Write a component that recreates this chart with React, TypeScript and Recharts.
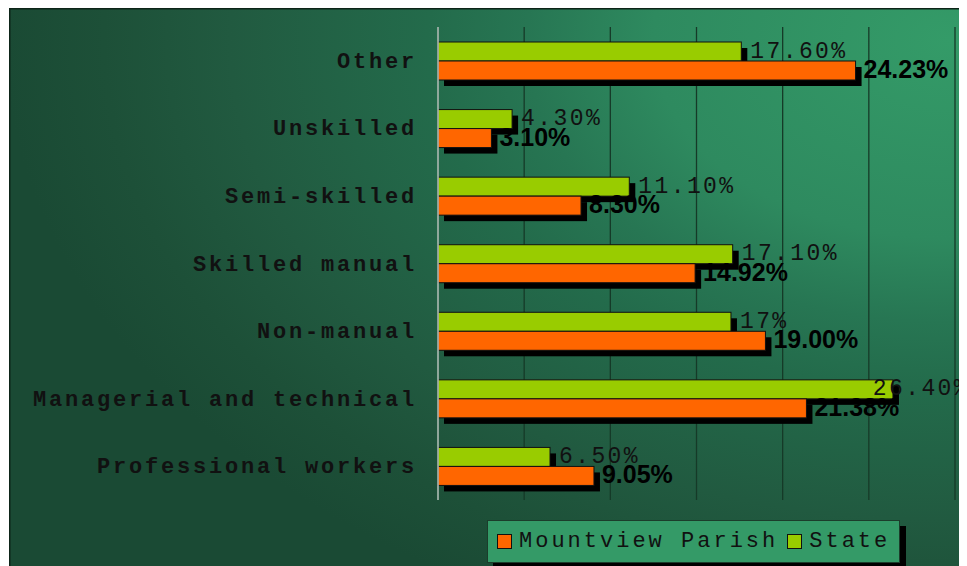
import React from "react"
import {
    BarChart,
    Bar,
    XAxis,
    YAxis,
    CartesianGrid,
    LabelList,
} from "recharts"

const categories = [
    "Other",
    "Unskilled",
    "Semi-skilled",
    "Skilled manual",
    "Non-manual",
    "Managerial and technical",
    "Professional workers",
]
const stateValues = [17.6, 4.3, 11.1, 17.1, 17, 26.4, 6.5]
const stateLabels = ["17.60%", "4.30%", "11.10%", "17.10%", "17%", "26.40%", "6.50%"]
const parishValues = [24.23, 3.1, 8.3, 14.92, 19.0, 21.38, 9.05]
const parishLabels = ["24.23%", "3.10%", "8.30%", "14.92%", "19.00%", "21.38%", "9.05%"]
const xTicks = [0, 5, 10, 15, 20, 25, 30]

const CHART_W = 958
const CHART_H = 558
const MONO = "'Liberation Mono', 'DejaVu Sans Mono', monospace"
const SANS = "'Liberation Sans', Arial, sans-serif"

const data = categories.map((name, i) => ({
    name,
    state: stateValues[i],
    stateLabel: stateLabels[i],
    parish: parishValues[i],
    parishLabel: parishLabels[i],
}))

// bar with a hard black drop shadow
function ShadowBar(props: any) {
    const { x, y, width, height, fill } = props
    if (!width || width <= 0) return null
    return (
        <g>
            <rect x={x + 6} y={y + 6} width={width} height={height} fill="#000" />
            <rect x={x} y={y} width={width} height={height} fill={fill} stroke="#111" strokeWidth={1} />
        </g>
    )
}

function StateLabel(props: any) {
    const { x, y, width, height, value } = props
    const text = String(value)
    const textW = text.length * 16.2 - 3
    const lx = Math.min(x + width + 9, CHART_W - textW)
    return (
        <text
            x={lx}
            y={y + height / 2 + 6}
            fill="#111"
            fontFamily={MONO}
            fontSize={23}
            letterSpacing={2.4}
        >
            {text}
        </text>
    )
}

function ParishLabel(props: any) {
    const { x, y, width, height, value } = props
    return (
        <text
            x={x + width + 8}
            y={y + height / 2 + 7.5}
            fill="#000"
            fontFamily={SANS}
            fontWeight="bold"
            fontSize={25}
        >
            {value}
        </text>
    )
}

function CategoryTick(props: any) {
    const { x, y, payload } = props
    return (
        <text
            x={x - 13}
            y={y + 7}
            textAnchor="end"
            fill="#111"
            fontFamily={MONO}
            fontWeight="bold"
            fontSize={22}
            letterSpacing={2.8}
        >
            {payload.value}
        </text>
    )
}

function LegendBox() {
    const item = (color: string, label: string) => (
        <span style={{ display: "inline-flex", alignItems: "center" }}>
            <span
                style={{
                    display: "inline-block",
                    width: 13,
                    height: 13,
                    background: color,
                    border: "1.5px solid #111",
                    marginRight: 7,
                }}
            />
            <span>{label}</span>
        </span>
    )
    return (
        <div
            style={{
                position: "absolute",
                left: 478,
                top: 512,
                width: 413,
                height: 43,
                boxSizing: "border-box",
                background: "#349a67",
                border: "1px solid #1b3d2b",
                boxShadow: "6px 6px 0 #000",
                display: "flex",
                alignItems: "center",
                paddingLeft: 9,
                gap: 9,
                fontFamily: MONO,
                fontSize: 22,
                letterSpacing: 3,
                color: "#111",
                whiteSpace: "nowrap",
            }}
        >
            {item("#ff6600", "Mountview Parish")}
            {item("#99cc00", "State")}
        </div>
    )
}

export default function App() {
    return (
        <div
            style={{
                position: "relative",
                width: CHART_W,
                height: CHART_H,
                marginLeft: 1,
                overflow: "hidden",
                background:
                    "radial-gradient(ellipse 900px 600px at 941px 32px, #349b68 0%, #2e8a5f 33%, #277653 47%, #236b4b 58%, #215a40 80%, #1d5038 94%, #1a4a34 105%)",
                boxShadow: "inset 1.5px 1.5px 0 #0d2418",
            }}
        >
            <BarChart
                width={CHART_W}
                height={CHART_H}
                data={data}
                layout="vertical"
                margin={{ top: 19, right: 12, bottom: 66, left: 0 }}
                barSize={19}
                barGap={0}
            >
                <CartesianGrid horizontal={false} stroke="#163a28" strokeWidth={1.3} />
                <XAxis type="number" domain={[0, 30]} ticks={xTicks} hide />
                <YAxis
                    type="category"
                    dataKey="name"
                    width={429}
                    axisLine={{ stroke: "#b8c8c0", strokeWidth: 1.5 }}
                    tickLine={false}
                    tick={<CategoryTick />}
                    interval={0}
                />
                <Bar dataKey="state" fill="#99cc00" shape={<ShadowBar />} isAnimationActive={false}>
                    <LabelList dataKey="stateLabel" content={<StateLabel />} />
                </Bar>
                <Bar dataKey="parish" fill="#ff6600" shape={<ShadowBar />} isAnimationActive={false}>
                    <LabelList dataKey="parishLabel" content={<ParishLabel />} />
                </Bar>
            </BarChart>
            <LegendBox />
        </div>
    )
}
